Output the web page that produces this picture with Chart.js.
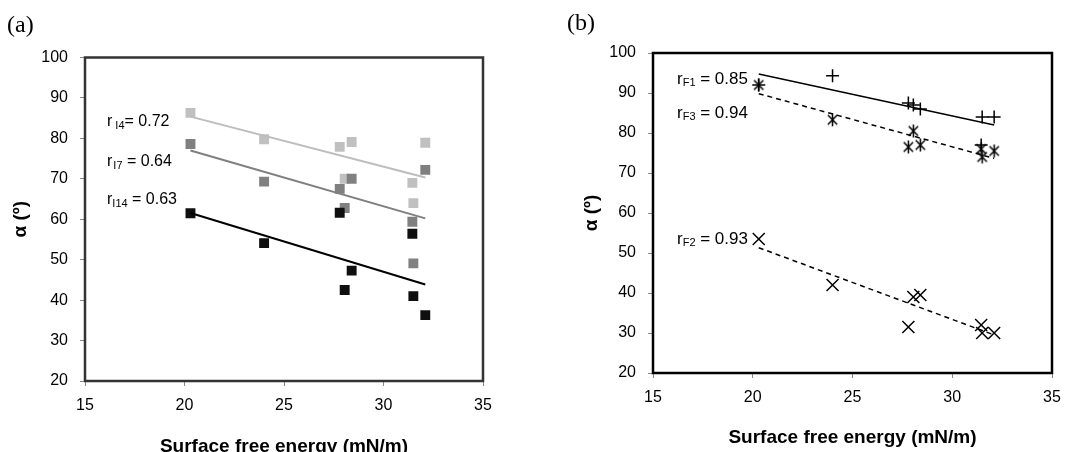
<!DOCTYPE html>
<html><head><meta charset="utf-8">
<script src="https://cdn.jsdelivr.net/npm/chart.js@4.4.0/dist/chart.umd.min.js"></script>
<style>
html,body{margin:0;padding:0;background:#fff;width:1089px;height:452px;overflow:hidden;}
#ca{position:absolute;left:0;top:0;}
#cb{position:absolute;left:545px;top:0;}
</style></head><body>
<canvas id="ca" width="545" height="452"></canvas>
<canvas id="cb" width="544" height="452"></canvas>
<script>
// ---------- data ----------
const sfe = [20.3, 24.0, 27.8, 28.05, 28.4, 31.45, 31.5, 32.1];
// panel (a)
const I4  = [86.3, 79.8, 77.9, 70.0, 79.1, 69.0, 64.0, 78.9];
const I7  = [78.6, 69.3, 67.5, 62.8, 70.0, 59.4, 49.1, 72.2];
const I14 = [61.5, 54.1, 61.6, 42.5, 47.3, 56.4, 41.0, 36.3];
// panel (b)
const F1 = [92.0, 94.3, 87.5, 87.0, 86.0, 77.0, 84.0, 84.0];
const F2 = [53.5, 42.0, 31.5, 39.0, 39.5, 32.0, 30.0, 30.0];
const F3 = [92.0, 83.3, 76.5, 80.5, 77.0, 76.0, 74.0, 75.5];
const xTickStep = 5, xMin = 15, xMax = 35;
const yTickStep = 10, yMin = 20, yMax = 100;
const namesA = ['I4', 'I7', 'I14'];
const namesB = ['F1', 'F2', 'F3'];
const rA = ['0.72', '0.64', '0.63'];
const rB = ['0.85', '0.93', '0.94'];

const FONT = "'Liberation Sans', Arial, sans-serif";

function pts(xs, ys){ return xs.map((x,i)=>({x:x, y:ys[i]})); }
function trend(xs, ys){
  const n = xs.length;
  const mx = xs.reduce((a,b)=>a+b,0)/n, my = ys.reduce((a,b)=>a+b,0)/n;
  let sxy=0, sxx=0;
  for(let i=0;i<n;i++){ sxy += (xs[i]-mx)*(ys[i]-my); sxx += (xs[i]-mx)*(xs[i]-mx); }
  const b = sxy/sxx, a = my - b*mx;
  const x0 = Math.min(...xs), x1 = Math.max(...xs);
  return [{x:x0, y:a+b*x0}, {x:x1, y:a+b*x1}];
}
function starImg(size, lw){
  const c = document.createElement('canvas'); c.width = size; c.height = size;
  const g = c.getContext('2d'); g.strokeStyle = '#000'; g.lineWidth = lw;
  const m = size/2, r = size/2 - 1, d = r*0.72;
  g.beginPath();
  g.moveTo(m, m-r); g.lineTo(m, m+r);
  g.moveTo(m-d, m-d); g.lineTo(m+d, m+d);
  g.moveTo(m+d, m-d); g.lineTo(m-d, m+d);
  g.stroke();
  return c;
}

// ---------- plugins ----------
const framePlugin = {
  id: 'frame',
  beforeDatasetsDraw(chart, args, o){
    const {ctx, chartArea:a} = chart;
    ctx.save(); ctx.lineWidth = o.width; ctx.strokeStyle = o.color;
    ctx.strokeRect(a.left, a.top, a.right-a.left, a.bottom-a.top);
    ctx.restore();
  }
};
const legendPos = {
  id: 'legendPos',
  afterLayout(chart, args, o){
    const lg = chart.legend; if(!lg) return;
    const pad = lg.options.labels.padding, fs = lg.options.labels.font.size;
    const h = lg.bottom - lg.top;
    lg.top = o.y - pad - fs/2; lg.bottom = lg.top + h;
  }
};
const notes = {
  id: 'notes',
  afterDatasetsDraw(chart, args, o){
    const {ctx, chartArea:a} = chart;
    ctx.save(); ctx.fillStyle = '#000'; ctx.textBaseline = 'middle'; ctx.textAlign = 'left';
    o.items.forEach(it=>{
      let x = a.left + it.dx, y = a.top + it.dy;
      ctx.font = o.size + 'px ' + FONT; ctx.fillText('r', x, y); x += ctx.measureText('r').width + it.gap;
      ctx.font = o.subSize + 'px ' + FONT; ctx.fillText(it.sub, x, y + o.subShift); x += ctx.measureText(it.sub).width;
      ctx.font = o.size + 'px ' + FONT; ctx.fillText(it.rest, x, y);
    });
    ctx.restore();
  },
  afterDraw(chart, args, o){
    const ctx = chart.ctx; ctx.save(); ctx.fillStyle = '#000';
    ctx.font = o.panelSize + "px 'Liberation Serif', 'Times New Roman', serif";
    ctx.textBaseline = 'middle'; ctx.textAlign = 'left';
    ctx.fillText(o.panel, o.panelX, o.panelY);
    ctx.restore();
  }
};

function scales(cfg){
  return {
    x: { type:'linear', min:xMin, max:xMax,
      ticks:{stepSize:xTickStep, color:'#000', font:{family:FONT, size:16}, padding:10, maxRotation:0},
      grid:{drawOnChartArea:false, drawTicks:true, tickLength:5, tickColor:'#888', tickWidth:1},
      border:{display:false},
      title:{display:true, text:'Surface free energy (mN/m)', color:'#000',
        font:{family:FONT, size:19, weight:'bold', lineHeight:cfg.xTitleLH}, padding:{top:0, bottom:cfg.xTitlePad}},
      afterFit(s){ s.height = cfg.xH; } },
    y: { type:'linear', min:yMin, max:yMax,
      ticks:{stepSize:yTickStep, color:'#000', font:{family:FONT, size:16}, padding:12},
      grid:{drawOnChartArea:false, drawTicks:true, tickLength:5, tickColor:'#888', tickWidth:1},
      border:{display:false},
      title:{display:true, text:'α (º)', color:'#000',
        font:{family:FONT, size:19, weight:'bold', lineHeight:1.2}, padding:{top:cfg.yTitlePad, bottom:0}},
      afterFit(s){ s.width = cfg.yW; } }
  };
}

// ---------- chart (a) ----------
const colA = ['#c0c0c0', '#808080', '#0f0f0f'];
const lineA = ['#bdbdbd', '#7f7f7f', '#000000'];
const seriesA = [I4, I7, I14];
const dsA = seriesA.map((s,i)=>({
  label: namesA[i], data: pts(sfe, s), pointStyle:'rect', pointRadius:7, pointHoverRadius:7,
  backgroundColor: colA[i], borderColor: colA[i], borderWidth:0, order: 3-i
}));
seriesA.forEach((s,i)=>dsA.push({
  label: namesA[i]+' fit', trend:true, data: trend(sfe, s), showLine:true, pointRadius:0,
  borderColor: lineA[i], borderWidth:2, order:0
}));
new Chart(document.getElementById('ca'), {
  type:'scatter',
  data:{datasets: dsA},
  options:{
    responsive:false, animation:false, events:[],
    layout:{padding:{left:0, right:62, top:37.5, bottom:0}},
    scales: scales({xH:71, xTitleLH:0.5, xTitlePad:0, yW:85, yTitlePad:9.6}),
    plugins:{
      legend:{display:true, position:'top', fullSize:false, maxHeight:20,
        labels:{usePointStyle:true, boxWidth:8, boxHeight:8, padding:34, color:'#000',
          font:{family:FONT, size:17}, filter:(it, d)=>!d.datasets[it.datasetIndex].trend}},
      tooltip:{enabled:false},
      frame:{width:2.5, color:'#333'},
      legendPos:{y:35},
      notes:{size:16, subSize:11, subShift:4, panel:'(a)', panelX:7, panelY:26, panelSize:24,
        items:[
          {dx:22, dy:64.5, gap:3, sub:namesA[0], rest:'= '+rA[0]},
          {dx:22, dy:104.5, gap:1, sub:namesA[1], rest:' = '+rA[1]},
          {dx:22, dy:142, gap:0, sub:namesA[2], rest:' = '+rA[2]}
        ]}
    }
  },
  plugins:[framePlugin, legendPos, notes]
});

// ---------- chart (b) ----------
const star = starImg(15, 1.5);
const stylesB = ['cross', 'crossRot', star];
const radB = [6.5, 8.5, 7];
const seriesB = [F1, F2, F3];
const dsB = seriesB.map((s,i)=>({
  label: namesB[i], data: pts(sfe, s), pointStyle: stylesB[i], pointRadius: radB[i], pointHoverRadius: radB[i],
  backgroundColor:'#000', borderColor:'#000', borderWidth:1.5, order:1
}));
const dashB = [[], [5,4], [5,4]];
seriesB.forEach((s,i)=>dsB.push({
  label: namesB[i]+' fit', trend:true, data: trend(sfe, s), showLine:true, pointRadius:0,
  borderColor:'#000', borderWidth:1.5, borderDash: dashB[i], order:0
}));
new Chart(document.getElementById('cb'), {
  type:'scatter',
  data:{datasets: dsB},
  options:{
    responsive:false, animation:false, events:[],
    layout:{padding:{left:0, right:37, top:33, bottom:0}},
    scales: scales({xH:79, xTitleLH:1, xTitlePad:4.5, yW:108, yTitlePad:35.6}),
    plugins:{
      legend:{display:true, position:'top', fullSize:false, maxHeight:20,
        labels:{usePointStyle:true, boxWidth:10, boxHeight:10, padding:30, color:'#000',
          font:{family:FONT, size:17}, filter:(it, d)=>!d.datasets[it.datasetIndex].trend}},
      tooltip:{enabled:false},
      frame:{width:2.5, color:'#000'},
      legendPos:{y:26},
      notes:{size:17, subSize:11, subShift:4, panel:'(b)', panelX:22, panelY:24, panelSize:24,
        items:[
          {dx:24, dy:26, gap:0, sub:namesB[0], rest:' = '+rB[0]},
          {dx:24, dy:60, gap:0, sub:namesB[2], rest:' = '+rB[2]},
          {dx:24, dy:186, gap:0, sub:namesB[1], rest:' = '+rB[1]}
        ]}
    }
  },
  plugins:[framePlugin, legendPos, notes]
});
</script>
</body></html>
